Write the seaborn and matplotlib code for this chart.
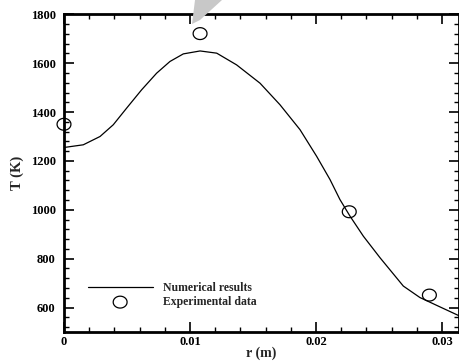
import numpy as np
import pandas as pd
import matplotlib
matplotlib.use("Agg")
import matplotlib.pyplot as plt
from matplotlib.path import Path
from matplotlib.patches import Polygon
from matplotlib.ticker import MultipleLocator
import seaborn as sns

# Numerical results (curve)
r_num = [0.0, 0.00153, 0.00286, 0.00391, 0.00497, 0.00616, 0.00735, 0.00841,
         0.00947, 0.0108, 0.01212, 0.0137, 0.01556, 0.01714, 0.01873, 0.02005,
         0.02111, 0.0219, 0.0227, 0.02376, 0.02508, 0.02693, 0.02825, 0.02958, 0.0315]
T_num = [1255, 1266, 1300, 1348, 1416, 1491, 1559, 1607,
         1638, 1650, 1641, 1593, 1518, 1430, 1328, 1219,
         1124, 1042, 974, 892, 804, 688, 641, 609, 563]

# Experimental data
r_exp = [0.0, 0.0108, 0.02264, 0.0290]
T_exp = [1350, 1721, 992, 651]

x_ticks = [0, 0.01, 0.02, 0.03]
x_tick_labels = ["0", "0.01", "0.02", "0.03"]
y_ticks = [600, 800, 1000, 1200, 1400, 1600, 1800]

sns.set_theme(style="white")
plt.rcParams["font.family"] = ["Liberation Serif", "DejaVu Serif"]
plt.rcParams["font.weight"] = "bold"

fig = plt.figure(figsize=(4.6, 3.62), dpi=100)
W, H = 460, 362
L, R, T, B = 64, 459, 14.3, 332
ax = fig.add_axes([L / W, (H - B) / H, (R - L) / W, (B - T) / H])

df_num = pd.DataFrame({"r": r_num, "T": T_num})
df_exp = pd.DataFrame({"r": r_exp, "T": T_exp})

sns.lineplot(data=df_num, x="r", y="T", ax=ax, color="black", linewidth=0.9,
             label="Numerical results", sort=False)

th = np.linspace(0, 2 * np.pi, 60)
ell = Path(np.column_stack([np.cos(th) * 1.17, np.sin(th)]))
sns.scatterplot(data=df_exp, x="r", y="T", ax=ax, marker=ell, s=100,
                facecolors="none", edgecolor="black", linewidth=0.9,
                label="Experimental data", clip_on=False, zorder=5)
for coll in ax.collections:
    coll.set_facecolor("none")
    coll.set_edgecolor("black")

ax.set_xlim(0, 0.03135)
ax.set_ylim(500, 1800)
ax.set_xticks(x_ticks)
ax.set_xticklabels(x_tick_labels)
ax.set_yticks(y_ticks)
ax.xaxis.set_minor_locator(MultipleLocator(0.002))
ax.yaxis.set_minor_locator(MultipleLocator(40))
ax.tick_params(which="both", direction="in", top=True, right=True,
               bottom=True, left=True, colors="black", labelsize=9)
ax.tick_params(which="major", length=7, width=1.2)
ax.tick_params(which="minor", length=3.6, width=1.0)
ax.tick_params(axis="x", pad=3)
ax.tick_params(axis="y", pad=6)
for lab in ax.get_xticklabels() + ax.get_yticklabels():
    lab.set_fontweight("bold")
for s in ax.spines.values():
    s.set_linewidth(2.0)
    s.set_color("black")

ax.set_xlabel("r (m)", fontsize=10, fontweight="bold", labelpad=-1)
ax.set_ylabel("T (K)", fontsize=10.5, fontweight="bold", labelpad=5)

leg = ax.legend(loc="lower left", bbox_to_anchor=(0.048, 0.06), frameon=False,
                fontsize=8.5, handlelength=5.5, handletextpad=0.85,
                labelspacing=0.2, borderaxespad=0)
for t in leg.get_texts():
    t.set_fontweight("bold")

# grey watermark wedge at the top
poly = Polygon([[195 / W, 1.0], [222 / W, 1.0], [200 / W, 1 - 20 / H], [192 / W, 1 - 24 / H]],
               closed=True, transform=fig.transFigure, facecolor="#c8c8c8",
               edgecolor="none", zorder=10)
fig.patches.append(poly)

fig.savefig("out.png", dpi=100)
